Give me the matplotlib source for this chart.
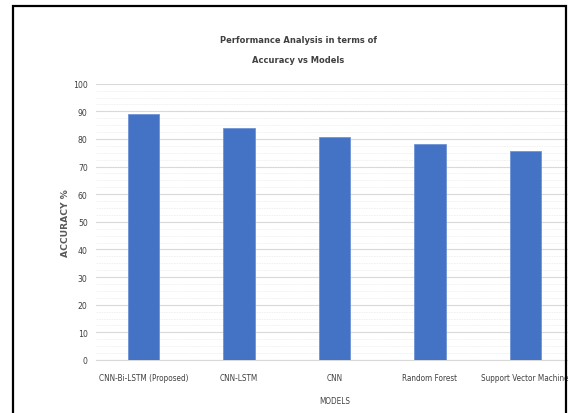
import matplotlib
matplotlib.use("Agg")
import matplotlib.pyplot as plt
from matplotlib.patches import Rectangle
from matplotlib import font_manager
from matplotlib.font_manager import FontProperties
import numpy as np

models = ["CNN-Bi-LSTM (Proposed)", "CNN-LSTM", "CNN", "Random Forest", "Support Vector Machine"]
accuracy = [89.0, 84.0, 80.8, 78.0, 75.7]
yticks = list(range(0, 101, 10))


def narrow_font(bold, size):
    """Find an installed narrow/condensed face; fall back to DejaVu Sans."""
    entries = font_manager.fontManager.ttflist
    prefs = ["Liberation Sans Narrow", "DejaVu Sans Condensed", "Roboto Condensed",
             "Open Sans Condensed", "Noto Sans Condensed"]
    def is_bold(f):
        w = f.weight if isinstance(f.weight, int) else {"bold": 700, "normal": 400}.get(f.weight, 400)
        return w >= 600
    def narrowish(f):
        tag = (f.name + " " + f.fname).lower()
        return ("narrow" in tag or "condensed" in tag or
                (isinstance(f.stretch, str) and "condensed" in f.stretch))
    cands = [f for f in entries if narrowish(f) and is_bold(f) == bold
             and "italic" not in f.fname.lower() and f.style == "normal"]
    def rank(f):
        for i, p in enumerate(prefs):
            if p.lower().replace(" ", "") in (f.name + f.fname).lower().replace(" ", ""):
                return i
        return len(prefs)
    cands.sort(key=rank)
    if cands:
        return FontProperties(fname=cands[0].fname, size=size)
    return FontProperties(family="DejaVu Sans", weight="bold" if bold else "normal",
                          stretch="condensed", size=size * 0.9)


text_color = "#404040"
bar_color = "#4472C4"

tick_fp = narrow_font(False, 5.9)
ytick_fp = narrow_font(False, 6.2)
title_fp = narrow_font(True, 6.7)

fig = plt.figure(figsize=(5.68, 4.14), dpi=100)
ax = fig.add_axes([96 / 568, 53 / 414, 477 / 568, 276.3 / 414])

x = np.arange(len(models))
ax.bar(x, accuracy, width=0.33, color=bar_color, edgecolor="#6f93d6", linewidth=0.6, zorder=3)

ax.set_xlim(-0.5, len(models) - 0.5)
ax.set_ylim(0, 100)
ax.set_yticks(yticks)
ax.set_yticklabels([str(v) for v in yticks], color=text_color, fontproperties=ytick_fp)
ax.set_yticks(np.arange(0, 101, 2.5), minor=True)
ax.yaxis.grid(True, which="major", color="#d9d9d9", linewidth=0.8, zorder=0)
ax.yaxis.grid(True, which="minor", color="#efefef", linewidth=0.6, linestyle=(0, (2, 1)), zorder=0)
ax.tick_params(axis="y", which="both", length=0, pad=6)
ax.tick_params(axis="x", length=0, pad=9.5)
ax.set_xticks(x)
ax.set_xticklabels(models, color=text_color, fontproperties=tick_fp)

for side in ("top", "right", "left"):
    ax.spines[side].set_visible(False)
ax.spines["bottom"].set_color("#d9d9d9")
ax.spines["bottom"].set_linewidth(0.8)

ax.set_xlabel("MODELS", color=text_color, fontproperties=tick_fp, labelpad=10)
ax.set_ylabel("ACCURACY %", fontsize=6.6, color="#595959", fontweight="bold", labelpad=2)

fig.text(298 / 568, 1 - 50.5 / 414, "Performance Analysis in terms of\nAccuracy vs Models",
         ha="center", va="center", color=text_color,
         fontproperties=title_fp, linespacing=2.5)

# outer chart frame
frame = Rectangle((12.7 / 568, -0.05), (565.7 - 12.7) / 568, 1.05 - 6.5 / 414,
                  transform=fig.transFigure, fill=False, edgecolor="black",
                  linewidth=1.6, clip_on=False)
fig.patches.append(frame)

fig.savefig("out.png", dpi=100)
